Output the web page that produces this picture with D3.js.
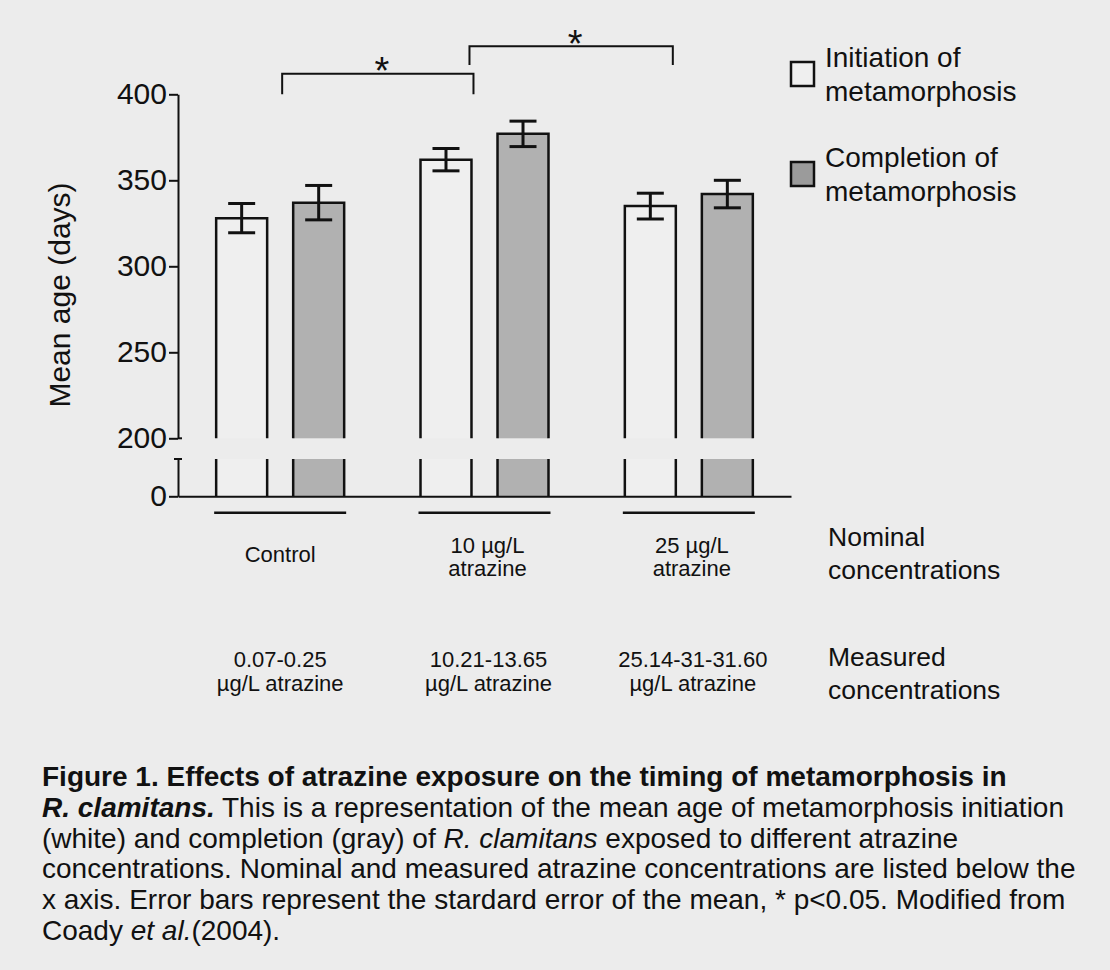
<!DOCTYPE html>
<html>
<head>
<meta charset="utf-8">
<script src="https://cdn.jsdelivr.net/npm/d3@7"></script>
<style>
  body { margin: 0; background: #ececec; }
  svg text { font-family: "Liberation Sans", Arial, Helvetica, sans-serif; fill: #111; }
</style>
</head>
<body>
<div id="plot"></div>
<script>
// data
var groups = ["Control", "10 µg/L", "25 µg/L"];
var nominalLabels = [["Control"], ["10 µg/L", "atrazine"], ["25 µg/L", "atrazine"]];
var measuredLabels = [["0.07-0.25", "µg/L atrazine"], ["10.21-13.65", "µg/L atrazine"], ["25.14-31-31.60", "µg/L atrazine"]];
var initiationMean = [328, 362, 335];
var initiationSE = [8.5, 6.5, 7.5];
var completionMean = [337, 377, 342];
var completionSE = [10, 7.4, 8];
var yTicks = [200, 250, 300, 350, 400];
var legendLabels = [["Initiation of", "metamorphosis"], ["Completion of", "metamorphosis"]];
var rowLabels = [["Nominal", "concentrations"], ["Measured", "concentrations"]];
// significance brackets: [group, anchor, nudge]
var bracketFrom = [[0, "mid", 2], [1, "init", -2]];
var bracketTo = [[1, "init", 2], [2, "init", -3]];
var bracketLevel = [412, 428];
var bracketEnds = [400, 417];
var caption = [
    [["Figure 1. Effects of atrazine exposure on the timing of metamorphosis in", "b"]],
    [["R. clamitans.", "bi"], [" This is a representation of the mean age of metamorphosis initiation", ""]],
    [["(white) and completion (gray) of ", ""], ["R. clamitans", "i"], [" exposed to different atrazine", ""]],
    [["concentrations. Nominal and measured atrazine concentrations are listed below the", ""]],
    [["x axis. Error bars represent the stardard error of the mean, * p<0.05. Modified from", ""]],
    [["Coady ", ""], ["et al.", "i"], ["(2004).", ""]]
];

var W = 1110, H = 970;
var svg = d3.select("#plot")
    .append("svg")
    .attr("width", W)
    .attr("height", H);

svg.append("rect").attr("width", W).attr("height", H).attr("fill", "#ececec");

// scales
var x = d3.scaleBand().domain(groups).range([178, 791]);
var half = x.bandwidth() / 2;
var xSub = d3.scaleBand().domain([0, 1]).range([half - 64, half + 64]).paddingInner(0.338);
var y = d3.scaleLinear().domain([200, 400]).range([438.3, 94.3]);
var yLow = d3.scaleLinear().domain([0, 200]).range([496.3, 459]);

var bars = [];
groups.forEach(function(g, i) {
    bars.push({g: g, s: 0, mean: initiationMean[i], se: initiationSE[i]});
    bars.push({g: g, s: 1, mean: completionMean[i], se: completionSE[i]});
});
var fills = ["#efefef", "#b1b1b1"];

// upper segment bars
var barG = svg.append("g");
barG.selectAll(".barUp")
    .data(bars)
    .enter()
    .append("rect")
    .attr("x", function(d) { return x(d.g) + xSub(d.s); })
    .attr("y", function(d) { return y(d.mean); })
    .attr("width", xSub.bandwidth())
    .attr("height", function(d) { return y(200) - y(d.mean); })
    .attr("fill", function(d) { return fills[d.s]; });
// lower segment bars
barG.selectAll(".barLow")
    .data(bars)
    .enter()
    .append("rect")
    .attr("x", function(d) { return x(d.g) + xSub(d.s); })
    .attr("y", yLow(200))
    .attr("width", xSub.bandwidth())
    .attr("height", yLow(0) - yLow(200))
    .attr("fill", function(d) { return fills[d.s]; });

// outlines: open at the axis break
barG.selectAll(".outlineUp")
    .data(bars)
    .enter()
    .append("path")
    .attr("d", function(d) {
        var x0 = x(d.g) + xSub(d.s), x1 = x0 + xSub.bandwidth();
        return "M" + x0 + "," + y(200) + "V" + y(d.mean) + "H" + x1 + "V" + y(200);
    })
    .attr("fill", "none")
    .attr("stroke", "#111")
    .attr("stroke-width", 2.5);
barG.selectAll(".outlineLow")
    .data(bars)
    .enter()
    .append("path")
    .attr("d", function(d) {
        var x0 = x(d.g) + xSub(d.s), x1 = x0 + xSub.bandwidth();
        return "M" + x0 + "," + yLow(200) + "V" + yLow(0) + "M" + x1 + "," + yLow(200) + "V" + yLow(0);
    })
    .attr("fill", "none")
    .attr("stroke", "#111")
    .attr("stroke-width", 2.5);

// error bars
var capW = 27;
var errG = svg.append("g").attr("stroke", "#111").attr("stroke-width", 3);
bars.forEach(function(d) {
    var cx = x(d.g) + xSub(d.s) + xSub.bandwidth() / 2;
    errG.append("line").attr("x1", cx).attr("x2", cx)
        .attr("y1", y(d.mean + d.se)).attr("y2", y(d.mean - d.se));
    [d.mean + d.se, d.mean - d.se].forEach(function(v) {
        errG.append("line").attr("x1", cx - capW / 2).attr("x2", cx + capW / 2)
            .attr("y1", y(v)).attr("y2", y(v));
    });
});

// y axis, upper part
var axUp = svg.append("g")
    .attr("transform", "translate(" + x.range()[0] + ",0)")
    .call(d3.axisLeft(y).tickValues(yTicks).tickSizeInner(9).tickSizeOuter(0).tickPadding(2));
// y axis, lower part
var axLow = svg.append("g")
    .attr("transform", "translate(" + x.range()[0] + ",0)")
    .call(d3.axisLeft(yLow).tickValues([0]).tickSizeInner(9).tickSizeOuter(0).tickPadding(2));
[axUp, axLow].forEach(function(a) {
    a.selectAll("path, line").attr("stroke", "#111").attr("stroke-width", 2);
    a.selectAll("text").style("font-size", "30px").attr("fill", "#111");
});
// break caps
svg.append("line").attr("x1", x.range()[0] - 4).attr("x2", x.range()[0] + 4)
    .attr("y1", yLow(200)).attr("y2", yLow(200)).attr("stroke", "#111").attr("stroke-width", 2);
svg.append("line").attr("x1", x.range()[0]).attr("x2", x.range()[0] + 4)
    .attr("y1", y(200)).attr("y2", y(200)).attr("stroke", "#111").attr("stroke-width", 2);

// x axis
var axX = svg.append("g")
    .attr("transform", "translate(0," + yLow(0) + ")")
    .call(d3.axisBottom(x).tickSize(0).tickFormat(""));
axX.select("path").attr("stroke", "#111").attr("stroke-width", 2);

// group underlines
svg.append("g").selectAll("line")
    .data(groups)
    .enter()
    .append("line")
    .attr("x1", function(d) { return x(d) + half - 66; })
    .attr("x2", function(d) { return x(d) + half + 66; })
    .attr("y1", yLow(0) + 16.5)
    .attr("y2", yLow(0) + 16.5)
    .attr("stroke", "#111")
    .attr("stroke-width", 2.5);

// y axis title
svg.append("text")
    .attr("text-anchor", "middle")
    .attr("transform", "translate(70,295) rotate(-90)")
    .style("font-size", "30px")
    .text("Mean age (days)");

// group labels
function multiline(sel, lines, yStart, lh) {
    lines.forEach(function(t, i) {
        sel.append("tspan").attr("x", sel.attr("x")).attr("y", yStart + i * lh).text(t);
    });
}
groups.forEach(function(g, i) {
    var lines = nominalLabels[i];
    var t = svg.append("text").attr("x", x(g) + half + (i > 0 ? 3 : 0)).attr("text-anchor", "middle").style("font-size", "22px");
    multiline(t, lines, lines.length == 1 ? 562 : 553, 23);
    var m = svg.append("text").attr("x", x(g) + half + (i > 0 ? 4 : 0)).attr("text-anchor", "middle").style("font-size", "22px");
    multiline(m, measuredLabels[i], 667, 24);
});
rowLabels.forEach(function(lines, i) {
    var t = svg.append("text").attr("x", 828).style("font-size", "26.5px");
    multiline(t, lines, i == 0 ? 546 : 666, 33);
});

// significance brackets
function anchorX(a) {
    var g = groups[a[0]];
    if (a[1] == "mid") return x(g) + half + a[2];
    return x(g) + xSub(0) + xSub.bandwidth() + a[2];
}
bracketFrom.forEach(function(f, i) {
    var x0 = anchorX(f), x1 = anchorX(bracketTo[i]);
    var yl = y(bracketLevel[i]), ye = y(bracketEnds[i]);
    svg.append("path")
        .attr("d", "M" + x0 + "," + ye + "V" + yl + "H" + x1 + "V" + ye)
        .attr("fill", "none")
        .attr("stroke", "#111")
        .attr("stroke-width", 2);
    svg.append("text")
        .attr("x", (x0 + x1) / 2 + 4)
        .attr("y", yl + 10.5)
        .attr("text-anchor", "middle")
        .style("font-size", "38px")
        .text("*");
});

// legend
var legG = svg.append("g");
var legFill = ["#efefef", "#9b9b9b"];
legendLabels.forEach(function(lines, i) {
    var top = 62 + i * 100;
    legG.append("rect")
        .attr("x", 791).attr("y", top)
        .attr("width", 23).attr("height", 24)
        .attr("fill", legFill[i])
        .attr("stroke", "#111")
        .attr("stroke-width", 2.5);
    var t = legG.append("text").attr("x", 825).style("font-size", "28px");
    multiline(t, lines, top + 5, 34);
});

// caption
var capG = svg.append("g");
caption.forEach(function(line, i) {
    var t = capG.append("text")
        .attr("x", 42)
        .attr("y", 786 + i * 30.8)
        .style("font-size", "28px");
    line.forEach(function(seg) {
        t.append("tspan")
            .attr("font-weight", seg[1].indexOf("b") >= 0 ? "bold" : "normal")
            .attr("font-style", seg[1].indexOf("i") >= 0 ? "italic" : "normal")
            .text(seg[0]);
    });
});
</script>
</body>
</html>
